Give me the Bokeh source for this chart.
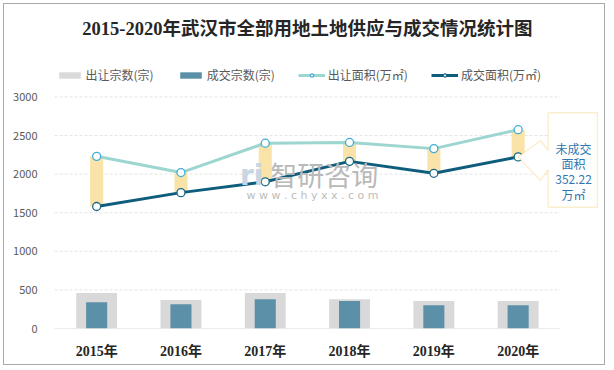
from bokeh.plotting import figure
from bokeh.models import (Range1d, Legend, LegendItem, Label, PolyAnnotation,
                          FixedTicker, ColumnDataSource)
from bokeh.embed import file_html
from bokeh.resources import INLINE

years = ["2015年", "2016年", "2017年", "2018年", "2019年", "2020年"]
supply_count = [460, 370, 460, 380, 355, 355]
deal_count = [340, 315, 380, 355, 300, 300]
supply_area = [2230, 2020, 2400, 2410, 2330, 2575]
deal_area = [1580, 1760, 1900, 2165, 2010, 2222.78]
y_ticks = [0, 500, 1000, 1500, 2000, 2500, 3000]
callout_lines = ["未成交", "面积", "352.22", "万㎡"]

SERIF = "'Liberation Serif', 'Noto Sans CJK SC'"
SANS = "'Noto Sans CJK SC'"

xpos = [i + 0.5 for i in range(len(years))]
n = len(years)
src = ColumnDataSource(dict(x=xpos, sc=supply_count, dc=deal_count, sa=supply_area, da=deal_area))

W, H = 602, 362
LEFT, BOTTOM, TOPSHIFT = 50, 38, 4
CAT_PX = 84.3
PX_PER_UNIT = 231.6 / 3000
frame_w, frame_h = W - LEFT, H - BOTTOM

p = figure(width=W, height=H,
           x_range=Range1d(0, frame_w / CAT_PX), y_range=Range1d(0, frame_h / PX_PER_UNIT),
           output_backend="svg", toolbar_location=None,
           min_border_left=LEFT, min_border_right=0, min_border_top=0, min_border_bottom=BOTTOM)
p.outline_line_color = None
p.background_fill_color = "white"
p.border_fill_color = "white"
p.styles = {"border": "1px solid #a9a9a9", "margin": "3px 0 0 3px"}

# axes
p.yaxis.ticker = FixedTicker(ticks=y_ticks)
p.yaxis.axis_line_color = None
p.yaxis.major_tick_line_color = None
p.yaxis.minor_tick_line_color = None
p.yaxis.major_label_text_font = SANS
p.yaxis.major_label_text_font_size = "11px"
p.yaxis.major_label_text_color = "#595959"
p.yaxis.major_label_standoff = 11

p.xaxis.ticker = FixedTicker(ticks=xpos)
p.xaxis.major_label_overrides = {x: y for x, y in zip(xpos, years)}
p.xaxis.axis_line_color = None
p.xaxis.major_tick_line_color = None
p.xaxis.minor_tick_line_color = None
p.xaxis.major_label_text_font = SERIF
p.xaxis.major_label_text_font_style = "bold"
p.xaxis.major_label_text_font_size = "14px"
p.xaxis.major_label_text_color = "#262626"
p.xaxis.major_label_standoff = 9

p.xgrid.grid_line_color = None
p.ygrid.grid_line_color = None

# grid lines and base line limited to the category span
grid_src = ColumnDataSource(dict(x0=[0] * (len(y_ticks) - 1), x1=[n] * (len(y_ticks) - 1), y=y_ticks[1:]))
p.segment(x0="x0", x1="x1", y0="y", y1="y", source=grid_src, line_color="#e4e4e4", line_dash="3 2", line_width=1)
p.segment(x0=[0], x1=[n], y0=[0], y1=[0], line_color="#d9d9d9", line_width=1)

# bars
r_sc = p.vbar(x="x", top="sc", width=0.485, source=src, fill_color="#d9d9d9", line_color=None)
r_dc = p.vbar(x="x", top="dc", width=0.25, source=src, fill_color="#5b90a8", line_color=None)

# high-low bands
p.vbar(x="x", bottom="da", top="sa", width=0.155, source=src, fill_color="#f9e3a8", line_color=None)

# watermark
p.add_layout(Label(x=2.34, y=1982, text="ri", text_font="DejaVu Sans", text_font_style="bold",
                   text_font_size="28px", text_color="#c8d5e2", text_align="center", text_baseline="middle"))
p.add_layout(Label(x=3.2, y=1995, text="智研咨询", text_font=SANS,
                   text_font_size="27px", text_color="#b9b9b9", text_align="center", text_baseline="middle"))
p.add_layout(Label(x=3.06, y=1723, text="w w w . c h y x x . c o m", text_font="DejaVu Sans",
                   text_font_size="11px", text_color="#bcbcbc", text_align="center", text_baseline="middle"))

# lines
r_sa = p.line(x="x", y="sa", source=src, line_color="#9dd5d0", line_width=3)
r_da = p.line(x="x", y="da", source=src, line_color="#0e5d7c", line_width=3)
m_sa = p.scatter(x="x", y="sa", source=src, size=8, fill_color="white", line_color="#43acd6", line_width=1.3)
m_da = p.scatter(x="x", y="da", source=src, size=8, fill_color="white", line_color="#1b6a88", line_width=1.3)

# callout (points at the 2020 deal-area point)
tip_x, tip_y = xpos[-1], deal_area[-1]
bx0, bx1, by0, by1 = 5.857, 6.44, 1571, 2794
nx = 5.765
p.add_layout(PolyAnnotation(
    xs=[bx0, bx0, nx, tip_x, nx, bx0, bx0, bx1, bx1],
    ys=[by1, 2306, 2435, tip_y, 1917, 2060, by0, by0, by1],
    fill_color="white", fill_alpha=1, line_color="#f3c85e", line_width=1.4, level="annotation"))
for txt, yy in zip(callout_lines, [2331, 2137, 1930, 1736]):
    p.add_layout(Label(x=6.157, y=yy, text=txt, text_font=SANS, text_font_size="12px",
                       text_color="#2f78b0", text_align="center", text_baseline="middle",
                       level="overlay"))

# title
p.add_layout(Label(x=3.0, y=3886, text="2015-2020年武汉市全部用地土地供应与成交情况统计图",
                   text_font=SERIF, text_font_style="bold", text_font_size="18.5px",
                   text_color="#262626", text_align="center", text_baseline="middle"))

# legend
legend = Legend(items=[
    LegendItem(label="出让宗数(宗)", renderers=[r_sc]),
    LegendItem(label="成交宗数(宗)", renderers=[r_dc]),
    LegendItem(label="出让面积(万㎡)", renderers=[r_sa, m_sa]),
    LegendItem(label="成交面积(万㎡)", renderers=[r_da, m_da]),
], location=(1.5, 245), orientation="horizontal")
legend.glyph_width = 27
legend.glyph_height = 8
legend.label_standoff = 3
legend.spacing = 23
legend.padding = 0
legend.margin = 0
legend.border_line_color = None
legend.background_fill_alpha = 0
legend.label_text_font = SANS
legend.label_text_font_size = "12px"
legend.label_text_color = "#595959"
legend.label_height = 15
p.add_layout(legend, "center")

open("out.html", "w").write(file_html(p, INLINE))
